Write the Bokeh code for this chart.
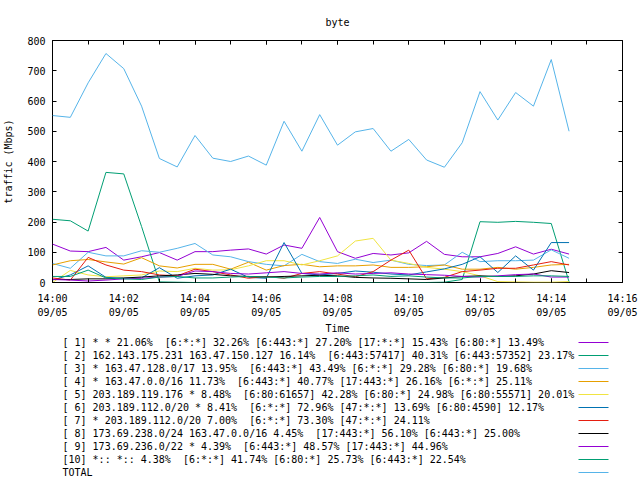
import pandas as pd
from bokeh.plotting import figure
from bokeh.models import Range1d, FixedTicker, DatetimeTickFormatter, LinearAxis, ColumnDataSource, CustomJSTickFormatter
from bokeh.layouts import column
from bokeh.embed import file_html
from bokeh.resources import INLINE
from bokeh.core.properties import value

FONT = "DejaVu Sans Mono"

times = pd.date_range("2023-09-05 14:00:00", periods=30, freq="30s")

s1 = [127, 104, 102, 116, 74, 85, 99, 74, 102, 102, 107, 111, 94, 124, 113, 215, 102, 80, 96, 91, 98, 136, 93, 85, 85, 96, 118, 94, 110, 94]
s2 = [209, 204, 170, 364, 359, 185, 2, 1, 0, 0, 0, 0, 0, 0, 0, 0, 0, 0, 0, 0, 0, 0, 1, 10, 201, 199, 202, 199, 195, 2]
s3 = [63, 47, 100, 88, 88, 105, 100, 113, 129, 91, 85, 69, 60, 55, 93, 69, 63, 77, 66, 74, 60, 56, 58, 100, 69, 72, 72, 74, 108, 80]
s4 = [58, 72, 76, 68, 61, 82, 55, 48, 60, 60, 44, 67, 41, 56, 60, 52, 55, 55, 58, 50, 50, 52, 58, 44, 44, 50, 44, 50, 58, 60]
s5 = [0, 40, 25, 19, 22, 25, 38, 36, 47, 41, 42, 55, 72, 72, 58, 72, 88, 137, 146, 74, 63, 50, 44, 36, 22, 3, 2, 1, 1, 3]
s6 = [8, 25, 55, 17, 14, 15, 49, 14, 22, 25, 44, 17, 14, 132, 30, 25, 30, 38, 34, 28, 25, 35, 45, 60, 85, 33, 88, 41, 132, 132]
s7 = [15, 8, 83, 58, 41, 36, 25, 22, 44, 36, 25, 14, 20, 14, 30, 36, 28, 19, 36, 74, 107, 12, 17, 36, 41, 47, 47, 58, 69, 58]
s8 = [10, 10, 12, 12, 15, 18, 22, 25, 30, 27, 22, 20, 18, 20, 22, 24, 22, 17, 15, 14, 12, 10, 15, 20, 22, 20, 22, 28, 39, 33]
s9 = [10, 8, 5, 8, 12, 14, 18, 20, 38, 36, 30, 28, 32, 36, 30, 28, 32, 28, 30, 32, 28, 26, 24, 20, 18, 22, 26, 28, 18, 18]
s10 = [20, 20, 41, 15, 12, 10, 18, 20, 15, 15, 18, 20, 18, 15, 18, 20, 20, 22, 25, 20, 22, 18, 15, 15, 20, 20, 20, 22, 22, 20]
total = [552, 546, 660, 757, 707, 583, 410, 382, 486, 411, 400, 418, 388, 533, 434, 555, 454, 498, 509, 434, 473, 405, 381, 462, 631, 537, 628, 583, 737, 500]

series = [s1, s2, s3, s4, s5, s6, s7, s8, s9, s10, total]
colors = ["#9400d3", "#009e73", "#56b4e9", "#e69f00", "#f0e442", "#0072b2",
          "#e51e10", "#000000", "#9400d3", "#009e73", "#56b4e9"]

NB = "\u00a0"
legend_labels = [
    "[ 1] * * 21.06%" + NB + " [6:*:*] 32.26% [6:443:*] 27.20% [17:*:*] 15.43% [6:80:*] 13.49%",
    "[ 2] 162.143.175.231 163.47.150.127 16.14%" + NB + " [6:443:57417] 40.31% [6:443:57352] 23.17%",
    "[ 3] * 163.47.128.0/17 13.95%" + NB + " [6:443:*] 43.49% [6:*:*] 29.28% [6:80:*] 19.68%",
    "[ 4] * 163.47.0.0/16 11.73%" + NB + " [6:443:*] 40.77% [17:443:*] 26.16% [6:*:*] 25.11%",
    "[ 5] 203.189.119.176 * 8.48%" + NB + " [6:80:61657] 42.28% [6:80:*] 24.98% [6:80:55571] 20.01%",
    "[ 6] 203.189.112.0/20 * 8.41%" + NB + " [6:*:*] 72.96% [47:*:*] 13.69% [6:80:4590] 12.17%",
    "[ 7] * 203.189.112.0/20 7.00%" + NB + " [6:*:*] 73.30% [47:*:*] 24.11%",
    "[ 8] 173.69.238.0/24 163.47.0.0/16 4.45%" + NB + " [17:443:*] 56.10% [6:443:*] 25.00%",
    "[ 9] 173.69.236.0/22 * 4.39%" + NB + " [6:443:*] 48.57% [17:443:*] 44.96%",
    "[10] *:: *:: 4.38%" + NB + " [6:*:*] 41.74% [6:80:*] 25.73% [6:443:*] 22.54%",
    "TOTAL",
]

x_start = pd.Timestamp("2023-09-05 14:00:00")
x_end = pd.Timestamp("2023-09-05 14:16:00")
major_times = pd.date_range(x_start, x_end, freq="2min")
minor_times = pd.date_range(x_start, x_end, freq="1min")
y_ticks = [0, 100, 200, 300, 400, 500, 600, 700, 800]


def ms(ts):
    return [int(t.value // 10**6) for t in ts]


FL, FW, FR = 52, 570, 18      # frame left / width / right border (px)
FT, FH = 40, 242              # frame top / height
MAIN_H = 336
LEG_H = 142

p = figure(x_axis_type="datetime", frame_width=FW, frame_height=FH,
           min_border_left=FL, min_border_right=FR, min_border_top=FT,
           min_border_bottom=MAIN_H - FT - FH,
           x_range=Range1d(x_start, x_end), y_range=Range1d(0, 800),
           output_backend="svg", toolbar_location=None, title="byte")
p.grid.visible = False
p.outline_line_color = "black"
p.outline_line_width = 1
p.background_fill_color = "white"
p.border_fill_color = "white"

p.title.text_font = FONT
p.title.text_font_size = "10px"
p.title.text_font_style = "normal"
p.title.align = "center"
p.title.text_color = "black"
p.title.standoff = 26

xticker = FixedTicker(ticks=ms(major_times), minor_ticks=ms(minor_times))
yticker = FixedTicker(ticks=y_ticks, minor_ticks=[])
fmt = "%H:%M\n%m/%d"
xfmt = DatetimeTickFormatter(seconds=fmt, minsec=fmt, minutes=fmt, hourmin=fmt, hours=fmt)
blank = CustomJSTickFormatter(code="return '';")


def style(ax):
    ax.axis_line_color = None
    ax.major_tick_in = 4
    ax.major_tick_out = 0
    ax.minor_tick_in = 4
    ax.minor_tick_out = 0
    ax.major_tick_line_color = "black"
    ax.minor_tick_line_color = "black"
    ax.major_label_text_font = FONT
    ax.major_label_text_font_size = "10px"
    ax.major_label_text_color = "black"
    ax.axis_label_text_font = FONT
    ax.axis_label_text_font_size = "10px"
    ax.axis_label_text_font_style = "normal"
    ax.axis_label_text_color = "black"


xa = p.xaxis[0]
xa.ticker = xticker
xa.formatter = xfmt
xa.axis_label = "Time"
style(xa)
xa.major_label_standoff = 10
xa.major_label_text_line_height = 1.35
xa.axis_label_standoff = 2

ya = p.yaxis[0]
ya.ticker = yticker
ya.axis_label = "traffic (Mbps)"
style(ya)
ya.minor_tick_in = 0
ya.major_label_standoff = 7
ya.axis_label_standoff = 10

top = LinearAxis(ticker=xticker, formatter=blank)
style(top)
top.major_label_standoff = 0
p.add_layout(top, "above")

right = LinearAxis(ticker=yticker, formatter=blank)
style(right)
right.minor_tick_in = 0
right.major_label_standoff = 0
p.add_layout(right, "right")

for vals, c in zip(series, colors):
    src = ColumnDataSource(dict(t=times, v=vals))
    p.line("t", "v", source=src, line_color=c, line_width=1)

# legend panel below (gnuplot style: text left, sample line right); coordinates in page pixels
p2 = figure(frame_width=FW, frame_height=LEG_H,
            min_border_left=FL, min_border_right=FR, min_border_top=0, min_border_bottom=0,
            x_range=Range1d(FL, FL + FW), y_range=Range1d(MAIN_H + LEG_H, MAIN_H),
            output_backend="svg", toolbar_location=None,
            x_axis_location=None, y_axis_location=None)
p2.grid.visible = False
p2.outline_line_color = None

n = len(legend_labels)
row_y = [341 + 13 * k for k in range(n)]
p2.text(x=[62] * n, y=row_y, text=legend_labels, text_font=value(FONT),
        text_font_size="10px", text_baseline="middle", text_align="left", text_color="black")
p2.segment(x0=[578] * n, y0=row_y, x1=[608] * n, y1=row_y, line_color=colors, line_width=1)

layout = column(p, p2)
open("out.html", "w").write(file_html(layout, INLINE))
